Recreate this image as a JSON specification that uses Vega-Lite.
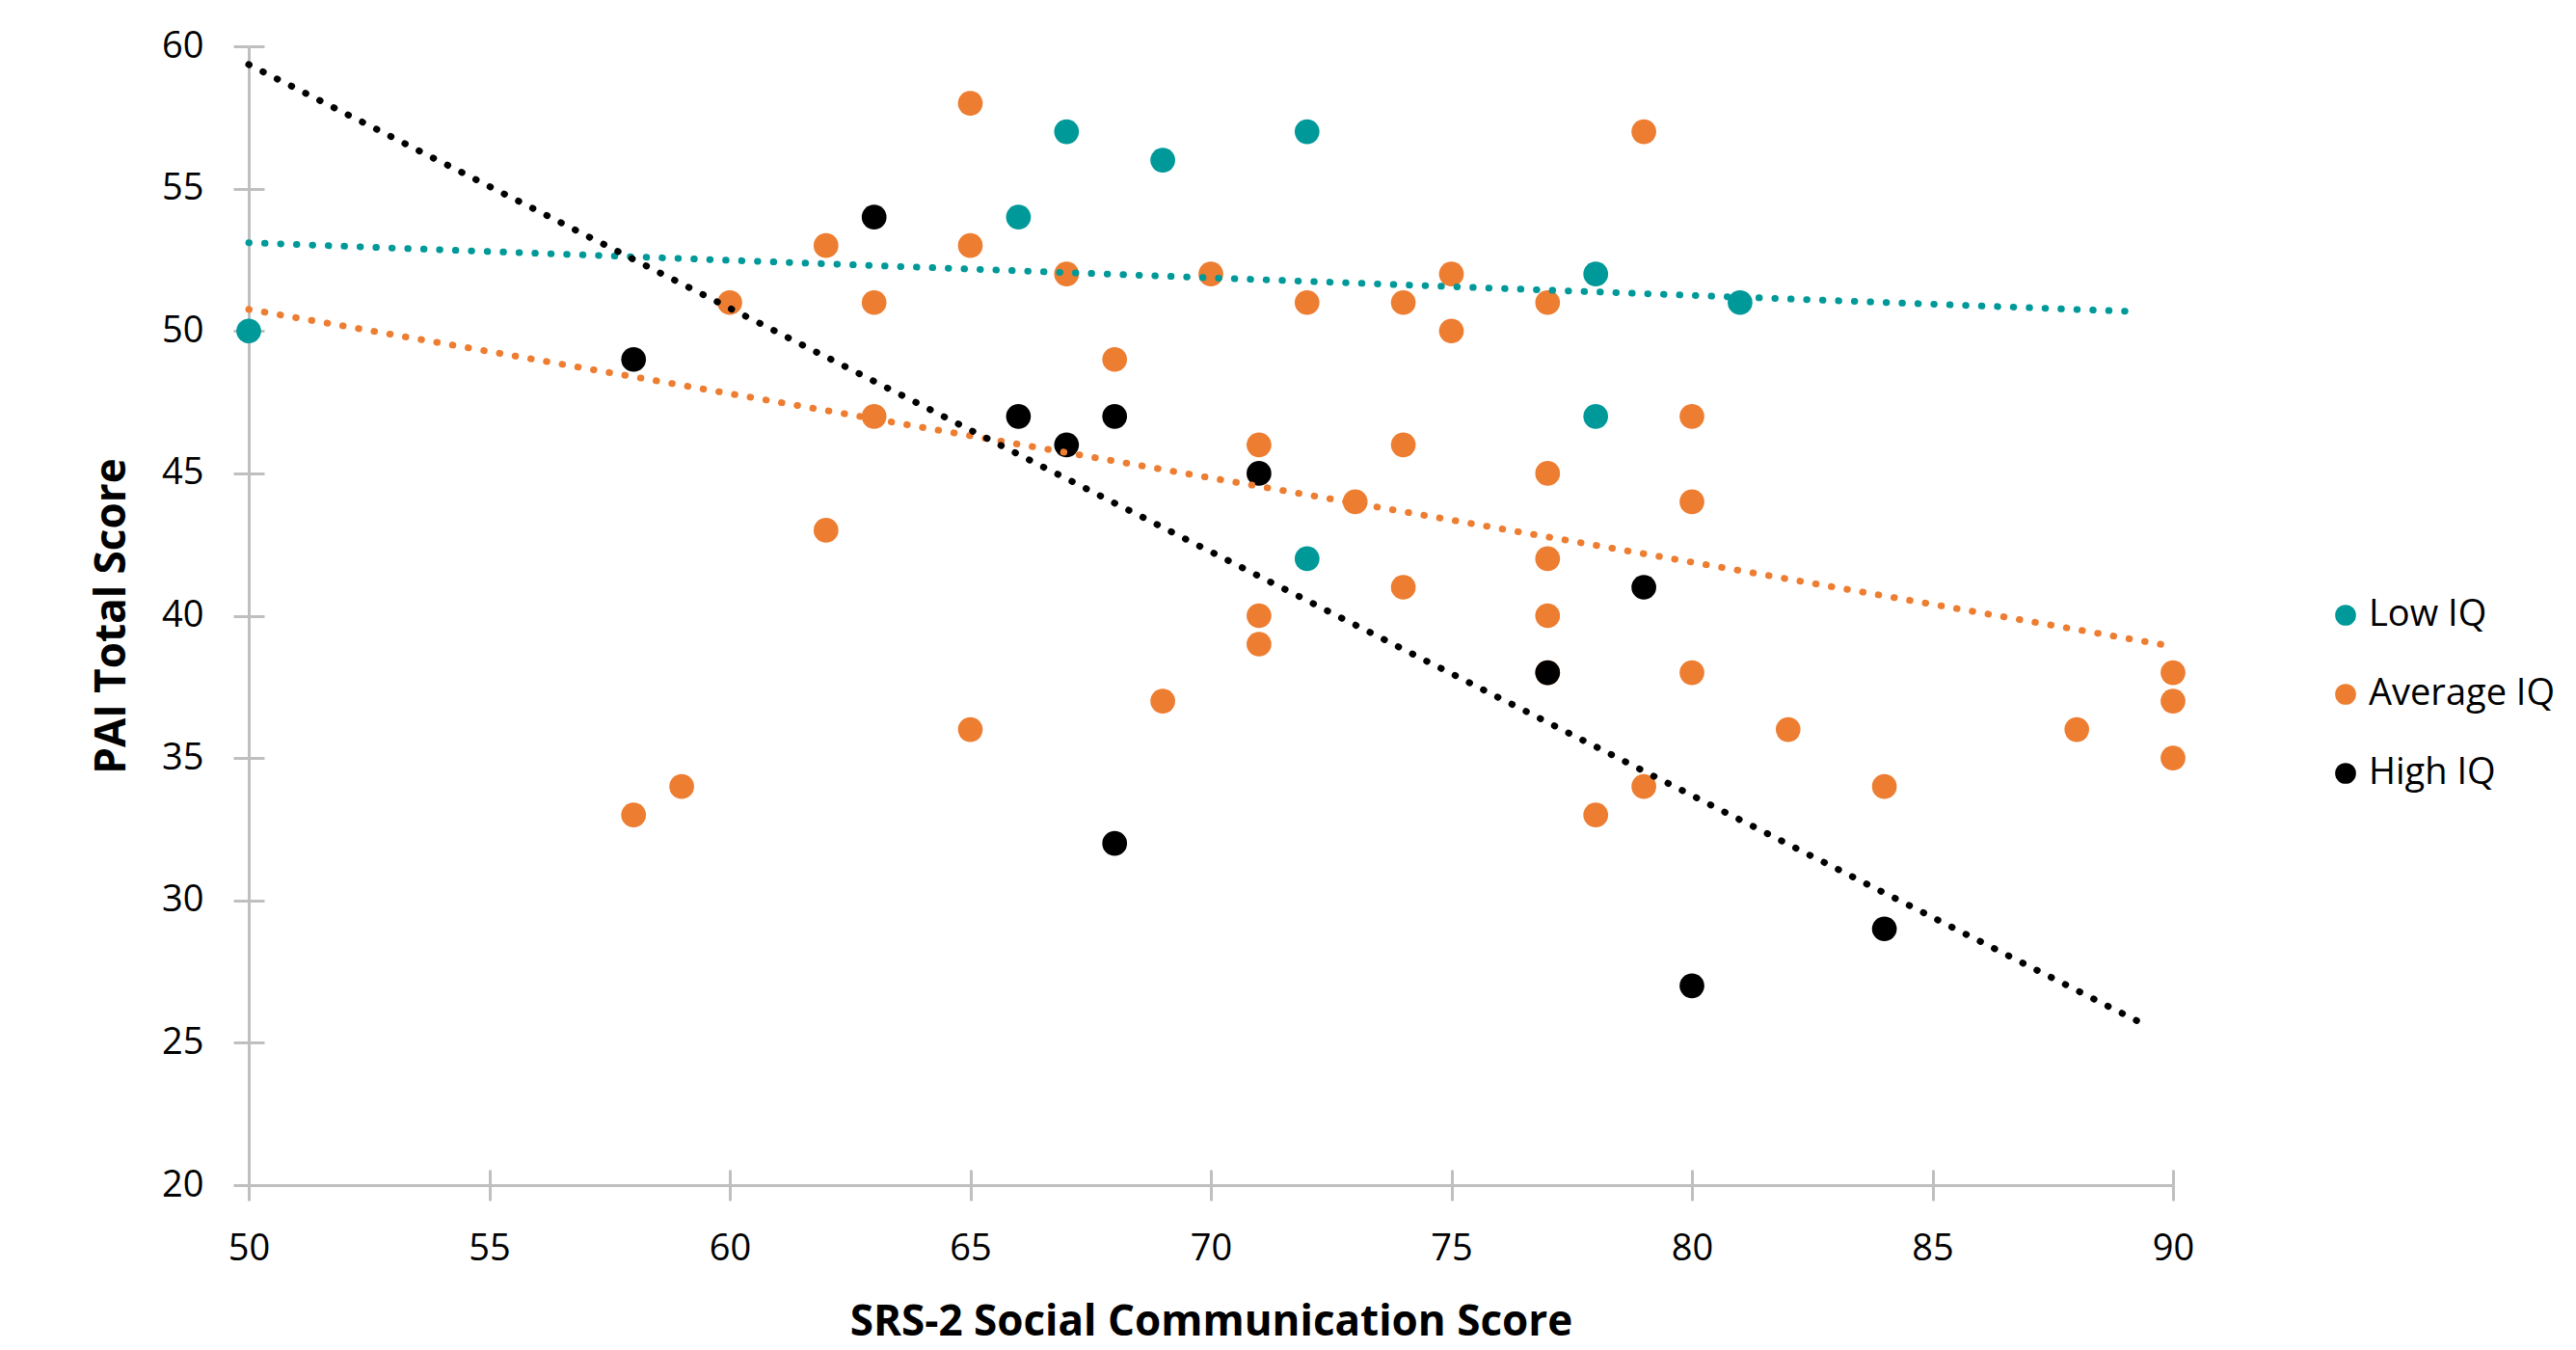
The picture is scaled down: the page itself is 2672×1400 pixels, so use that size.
{
  "$schema": "https://vega.github.io/schema/vega-lite/v6.json",
  "width": 1996,
  "height": 1181,
  "autosize": {"type": "none"},
  "padding": {"left": 258, "top": 48, "right": 418, "bottom": 171},
  "background": "white",
  "config": {
    "view": {"stroke": null},
    "font": "Open Sans",
    "axis": {
      "domainColor": "#BFBFBF",
      "domainWidth": 3,
      "tickColor": "#BFBFBF",
      "tickWidth": 3,
      "tickSize": 16,
      "grid": false,
      "labelFont": "Open Sans",
      "labelFontSize": 38,
      "labelColor": "#000000",
      "labelFlush": false,
      "labelOverlap": false,
      "titleFont": "Open Sans",
      "titleFontWeight": "bold",
      "titleFontSize": 44,
      "titleColor": "#000000"
    }
  },
  "datasets": {
    "points": [
      {"x": 50, "y": 50, "group": "Low IQ"},
      {"x": 66, "y": 54, "group": "Low IQ"},
      {"x": 67, "y": 57, "group": "Low IQ"},
      {"x": 69, "y": 56, "group": "Low IQ"},
      {"x": 72, "y": 57, "group": "Low IQ"},
      {"x": 72, "y": 42, "group": "Low IQ"},
      {"x": 78, "y": 52, "group": "Low IQ"},
      {"x": 78, "y": 47, "group": "Low IQ"},
      {"x": 81, "y": 51, "group": "Low IQ"},
      {"x": 58, "y": 33, "group": "Average IQ"},
      {"x": 59, "y": 34, "group": "Average IQ"},
      {"x": 60, "y": 51, "group": "Average IQ"},
      {"x": 62, "y": 53, "group": "Average IQ"},
      {"x": 62, "y": 43, "group": "Average IQ"},
      {"x": 63, "y": 51, "group": "Average IQ"},
      {"x": 63, "y": 47, "group": "Average IQ"},
      {"x": 65, "y": 58, "group": "Average IQ"},
      {"x": 65, "y": 53, "group": "Average IQ"},
      {"x": 65, "y": 36, "group": "Average IQ"},
      {"x": 67, "y": 52, "group": "Average IQ"},
      {"x": 68, "y": 49, "group": "Average IQ"},
      {"x": 69, "y": 37, "group": "Average IQ"},
      {"x": 70, "y": 52, "group": "Average IQ"},
      {"x": 71, "y": 46, "group": "Average IQ"},
      {"x": 71, "y": 40, "group": "Average IQ"},
      {"x": 71, "y": 39, "group": "Average IQ"},
      {"x": 72, "y": 51, "group": "Average IQ"},
      {"x": 73, "y": 44, "group": "Average IQ"},
      {"x": 74, "y": 51, "group": "Average IQ"},
      {"x": 74, "y": 46, "group": "Average IQ"},
      {"x": 74, "y": 41, "group": "Average IQ"},
      {"x": 75, "y": 52, "group": "Average IQ"},
      {"x": 75, "y": 50, "group": "Average IQ"},
      {"x": 77, "y": 51, "group": "Average IQ"},
      {"x": 77, "y": 45, "group": "Average IQ"},
      {"x": 77, "y": 42, "group": "Average IQ"},
      {"x": 77, "y": 40, "group": "Average IQ"},
      {"x": 77, "y": 38, "group": "Average IQ"},
      {"x": 78, "y": 33, "group": "Average IQ"},
      {"x": 79, "y": 57, "group": "Average IQ"},
      {"x": 79, "y": 34, "group": "Average IQ"},
      {"x": 80, "y": 47, "group": "Average IQ"},
      {"x": 80, "y": 44, "group": "Average IQ"},
      {"x": 80, "y": 38, "group": "Average IQ"},
      {"x": 82, "y": 36, "group": "Average IQ"},
      {"x": 84, "y": 34, "group": "Average IQ"},
      {"x": 88, "y": 36, "group": "Average IQ"},
      {"x": 90, "y": 38, "group": "Average IQ"},
      {"x": 90, "y": 37, "group": "Average IQ"},
      {"x": 90, "y": 35, "group": "Average IQ"},
      {"x": 58, "y": 49, "group": "High IQ"},
      {"x": 63, "y": 54, "group": "High IQ"},
      {"x": 66, "y": 47, "group": "High IQ"},
      {"x": 67, "y": 46, "group": "High IQ"},
      {"x": 68, "y": 47, "group": "High IQ"},
      {"x": 68, "y": 32, "group": "High IQ"},
      {"x": 71, "y": 45, "group": "High IQ"},
      {"x": 77, "y": 38, "group": "High IQ"},
      {"x": 79, "y": 41, "group": "High IQ"},
      {"x": 80, "y": 27, "group": "High IQ"},
      {"x": 84, "y": 29, "group": "High IQ"}
    ],
    "trends": [
      {"x": 50, "y": 53.1, "group": "Low IQ"},
      {"x": 89.26, "y": 50.68, "group": "Low IQ"},
      {"x": 50, "y": 50.76, "group": "Average IQ"},
      {"x": 89.9, "y": 38.95, "group": "Average IQ"},
      {"x": 50, "y": 59.36, "group": "High IQ"},
      {"x": 89.45, "y": 25.6, "group": "High IQ"}
    ]
  },
  "resolve": {"axis": {"x": "independent", "y": "independent"}},
  "layer": [
    {
      "data": {"name": "points"},
      "mark": {"type": "circle", "size": 660, "opacity": 1},
      "encoding": {
        "x": {
          "field": "x", "type": "quantitative",
          "scale": {"domain": [50, 90], "nice": false, "zero": false},
          "axis": {
            "orient": "bottom",
            "values": [50, 55, 60, 65, 70, 75, 80, 85, 90],
            "title": "SRS-2 Social Communication Score",
            "labelPadding": 31,
            "titleBaseline": "middle",
            "titleY": 142
          }
        },
        "y": {
          "field": "y", "type": "quantitative",
          "scale": {"domain": [20, 60], "nice": false, "zero": false},
          "axis": {
            "orient": "left",
            "values": [20, 25, 30, 35, 40, 45, 50, 55, 60],
            "title": "PAI Total Score",
            "labelPadding": 31,
            "titleBaseline": "middle",
            "titleX": -142
          }
        },
        "color": {
          "field": "group", "type": "nominal",
          "scale": {"domain": ["Low IQ", "Average IQ", "High IQ"], "range": ["#009999", "#ED7D31", "#000000"]},
          "legend": {
            "title": null,
            "orient": "none",
            "legendX": 2156,
            "legendY": 571,
            "padding": 0,
            "symbolType": "circle",
            "symbolSize": 470,
            "symbolStrokeWidth": 0,
            "symbolOpacity": 1,
            "labelFont": "Open Sans",
            "labelFontSize": 38,
            "labelColor": "#000000",
            "labelOffset": 5,
            "labelLimit": 600,
            "rowPadding": 44
          }
        }
      }
    },
    {
      "data": {"name": "trends"},
      "mark": {"type": "line", "strokeWidth": 7, "strokeCap": "round", "strokeDash": [0.5, 16]},
      "encoding": {
        "x": {
          "field": "x", "type": "quantitative",
          "axis": {
            "orient": "bottom",
            "values": [50, 55, 60, 65, 70, 75, 80, 85, 90],
            "tickSize": -16,
            "labels": false,
            "domain": false,
            "title": null
          }
        },
        "y": {
          "field": "y", "type": "quantitative",
          "axis": {
            "orient": "left",
            "values": [20, 25, 30, 35, 40, 45, 50, 55, 60],
            "tickSize": -16,
            "labels": false,
            "domain": false,
            "title": null
          }
        },
        "detail": {"field": "group"},
        "color": {"field": "group", "type": "nominal", "legend": null}
      }
    }
  ]
}
